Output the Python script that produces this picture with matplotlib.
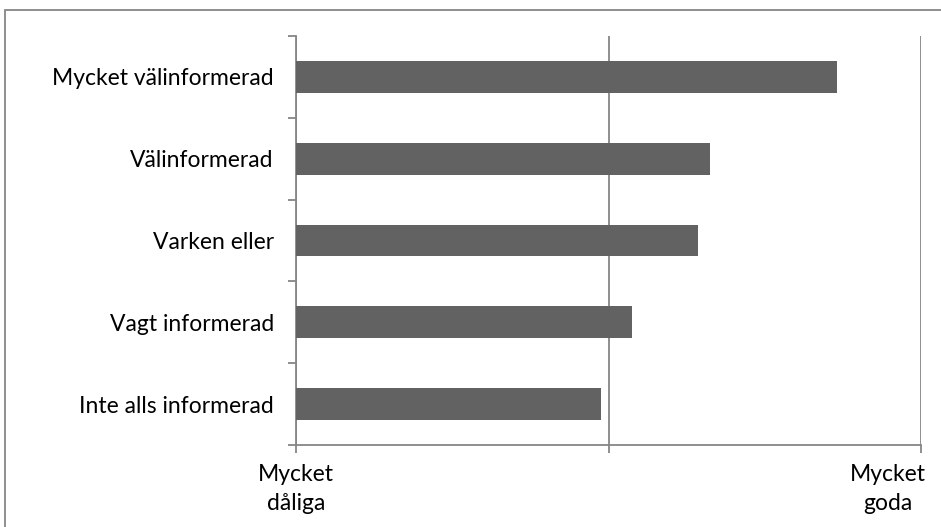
import numpy as np
import matplotlib
matplotlib.use("Agg")
import matplotlib.pyplot as plt
import matplotlib.transforms as mtransforms
from matplotlib.patches import Rectangle

# Data (bottom to top)
categories = ["Inte alls informerad", "Vagt informerad", "Varken eller",
              "Välinformerad", "Mycket välinformerad"]
values = [2.95, 3.15, 3.57, 3.65, 4.46]
x_ticks = [1, 3, 5]
x_labels = ["Mycket\ndåliga", "", "Mycket\ngoda"]

plt.rcParams["font.family"] = ["Lato", "DejaVu Sans"]
grid_col = "#868686"

fig = plt.figure(figsize=(9.41, 5.27), dpi=100)
ax = fig.add_axes([296 / 941, 1 - 445 / 527, 625 / 941, 409 / 527])

# outer chart border
fig.patches.append(Rectangle((5 / 941, -0.1), 1.1, (527 - 10) / 527 + 0.1,
                             transform=fig.transFigure, fill=False,
                             edgecolor=grid_col, linewidth=1.3))

y = np.arange(len(categories))
ax.barh(y, values, height=0.39, left=0, color="#626262", zorder=3)

ax.set_xlim(1, 5)
ax.set_ylim(-0.5, len(categories) - 0.5)

ax.set_xticks(x_ticks)
ax.set_xticklabels(x_labels, fontsize=16.5, linespacing=1.45)
ax.xaxis.grid(True, color=grid_col, linewidth=1.3, zorder=0)
ax.tick_params(axis="x", length=6, width=1.3, color=grid_col, pad=8)

ax.set_yticks(y)
ax.set_yticklabels(categories, fontsize=16.5)
ax.set_yticks(np.arange(-0.5, len(categories)), minor=True)
ax.tick_params(axis="y", which="major", length=0, pad=16)
ax.tick_params(axis="y", which="minor", length=5.5, width=1.3, color=grid_col)

for s in ["top", "right"]:
    ax.spines[s].set_visible(False)
for s in ["left", "bottom"]:
    ax.spines[s].set_color(grid_col)
    ax.spines[s].set_linewidth(1.3)

# right label sits inside the chart edge
labs = ax.get_xticklabels()
labs[-1].set_horizontalalignment("right")
labs[-1].set_multialignment("center")
labs[-1].set_transform(labs[-1].get_transform() +
                       mtransforms.ScaledTranslation(5 / 100, 0, fig.dpi_scale_trans))

fig.savefig("out.png", dpi=100)
